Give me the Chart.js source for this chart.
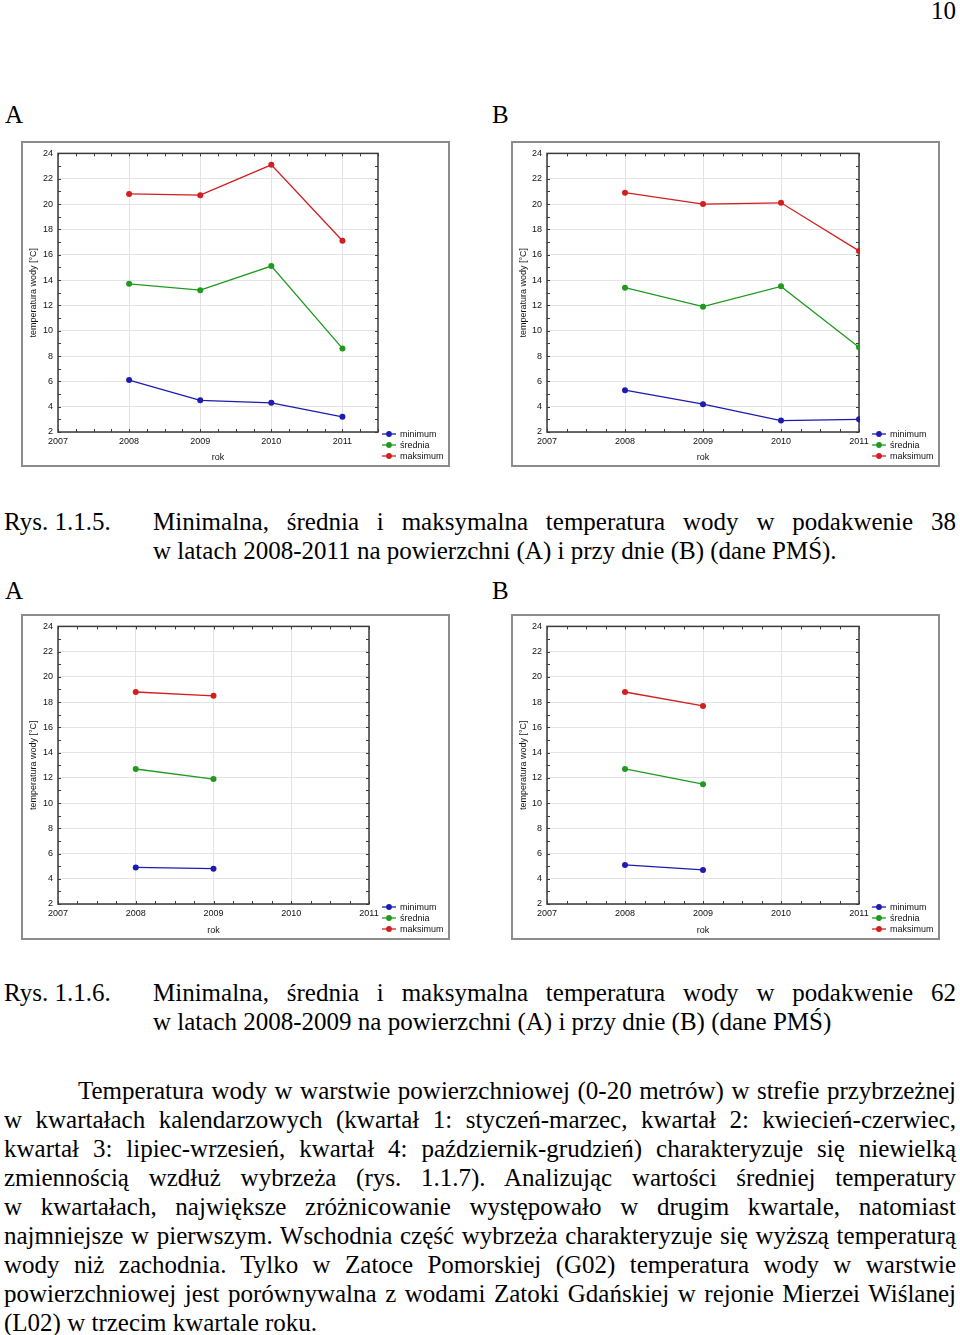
<!DOCTYPE html>
<html lang="pl">
<head>
<meta charset="utf-8">
<script src="https://cdn.jsdelivr.net/npm/chart.js@4.4.1/dist/chart.umd.min.js"></script>
<style>
  body { margin: 0; width: 960px; height: 1335px; position: relative; background: #fff; color: #000;
         font-family: "Liberation Serif", "Times New Roman", serif; overflow: hidden; }
  .t { position: absolute; font-size: 25px; line-height: 29px; white-space: nowrap; }
  .j { text-align: justify; text-align-last: justify; }
  .box { position: absolute; width: 429px; height: 326px; border: 2px solid #8c8c8c; box-sizing: border-box; }
  .box canvas { position: absolute; left: 0; top: 0; }
</style>
</head>
<body>

<div class="t" style="right:4px; top:-4px;">10</div>

<div class="t" style="left:5px; top:100px;">A</div>
<div class="t" style="left:492px; top:100px;">B</div>

<div class="box" style="left:21px; top:141px;"><canvas id="c38A" width="425" height="322"></canvas></div>
<div class="box" style="left:511px; top:141px;"><canvas id="c38B" width="425" height="322"></canvas></div>

<div class="t" style="left:4px; top:507px;">Rys. 1.1.5.</div>
<div class="t j" style="left:153px; top:507px; width:803px;">Minimalna, średnia i maksymalna temperatura wody w podakwenie 38</div>
<div class="t" style="left:153px; top:536px;">w latach 2008-2011 na powierzchni (A) i przy dnie (B) (dane PMŚ).</div>

<div class="t" style="left:5px; top:576px;">A</div>
<div class="t" style="left:492px; top:576px;">B</div>

<div class="box" style="left:21px; top:614px;"><canvas id="c62A" width="425" height="322"></canvas></div>
<div class="box" style="left:511px; top:614px;"><canvas id="c62B" width="425" height="322"></canvas></div>

<div class="t" style="left:4px; top:978px;">Rys. 1.1.6.</div>
<div class="t j" style="left:153px; top:978px; width:803px;">Minimalna, średnia i maksymalna temperatura wody w podakwenie 62</div>
<div class="t" style="left:153px; top:1007px;">w latach 2008-2009 na powierzchni (A) i przy dnie (B) (dane PMŚ)</div>

<div class="t j" style="left:78px; top:1076px; width:878px;">Temperatura wody w warstwie powierzchniowej (0-20 metrów) w strefie przybrzeżnej</div>
<div class="t j" style="left:4px; top:1105px; width:952px;">w kwartałach kalendarzowych (kwartał 1: styczeń-marzec, kwartał 2: kwiecień-czerwiec,</div>
<div class="t j" style="left:4px; top:1134px; width:952px;">kwartał 3: lipiec-wrzesień, kwartał 4: październik-grudzień) charakteryzuje się niewielką</div>
<div class="t j" style="left:4px; top:1163px; width:952px;">zmiennością wzdłuż wybrzeża (rys. 1.1.7). Analizując wartości średniej temperatury</div>
<div class="t j" style="left:4px; top:1192px; width:952px;">w kwartałach, największe zróżnicowanie występowało w drugim kwartale, natomiast</div>
<div class="t j" style="left:4px; top:1221px; width:952px;">najmniejsze w pierwszym. Wschodnia część wybrzeża charakteryzuje się wyższą temperaturą</div>
<div class="t j" style="left:4px; top:1250px; width:952px;">wody niż zachodnia. Tylko w Zatoce Pomorskiej (G02) temperatura wody w warstwie</div>
<div class="t j" style="left:4px; top:1279px; width:952px;">powierzchniowej jest porównywalna z wodami Zatoki Gdańskiej w rejonie Mierzei Wiślanej</div>
<div class="t" style="left:4px; top:1308px;">(L02) w trzecim kwartale roku.</div>

<script>
// lata
const years4 = [2008, 2009, 2010, 2011];
const years2 = [2008, 2009];
const seriesNames = ['minimum', 'średnia', 'maksimum'];
const seriesColors = ['#1c1cb0', '#1f9a1f', '#d21f1f'];

// podakwen 38 - powierzchnia (A)
const min38A = [6.1, 4.5, 4.3, 3.2];
const avg38A = [13.7, 13.2, 15.1, 8.6];
const max38A = [20.8, 20.7, 23.1, 17.1];

// podakwen 38 - przy dnie (B)
const min38B = [5.3, 4.2, 2.9, 3.0];
const avg38B = [13.4, 11.9, 13.5, 8.7];
const max38B = [20.9, 20.0, 20.1, 16.3];

// podakwen 62 - powierzchnia (A)
const min62A = [4.9, 4.8];
const avg62A = [12.7, 11.9];
const max62A = [18.8, 18.5];

// podakwen 62 - przy dnie (B)
const min62B = [5.1, 4.7];
const avg62B = [12.7, 11.5];
const max62B = [18.8, 17.7];

// osie
const yMin = 2, yMax = 24, yStep = 2;
const xMin = 2007;

const sansFont = '"Liberation Sans", Arial, sans-serif';

// ramka wykresu z krotkimi kreskami do srodka
const frameTicks = {
  id: 'frameTicks',
  beforeDatasetsDraw(chart) {
    const { ctx, chartArea: a, scales: { x, y } } = chart;
    ctx.save();
    ctx.strokeStyle = '#3a3a3a';
    ctx.lineWidth = 1;
    ctx.beginPath();
    for (let v = y.min; v <= y.max + 1e-6; v += 1) {
      const py = Math.round(y.getPixelForValue(v)) + 0.5;
      ctx.moveTo(a.left, py); ctx.lineTo(a.left + 3, py);
      ctx.moveTo(a.right, py); ctx.lineTo(a.right - 3, py);
    }
    for (let v = x.min; v <= x.max + 1e-6; v += 0.25) {
      const px = Math.round(x.getPixelForValue(v)) + 0.5;
      ctx.moveTo(px, a.top); ctx.lineTo(px, a.top + 3);
      ctx.moveTo(px, a.bottom); ctx.lineTo(px, a.bottom - 3);
    }
    ctx.stroke();
    ctx.lineWidth = 1.5;
    ctx.strokeRect(a.left, a.top, a.right - a.left, a.bottom - a.top);
    ctx.restore();
  }
};

// legenda w prawym dolnym rogu
const sideLegend = {
  id: 'sideLegend',
  afterDraw(chart) {
    const ctx = chart.ctx;
    ctx.save();
    ctx.font = '9px ' + sansFont;
    ctx.textBaseline = 'middle';
    chart.data.datasets.forEach((ds, i) => {
      const yy = 291 + i * 11;
      ctx.strokeStyle = ds.borderColor;
      ctx.lineWidth = 1.3;
      ctx.beginPath();
      ctx.moveTo(359, yy); ctx.lineTo(373, yy);
      ctx.stroke();
      ctx.fillStyle = ds.pointBackgroundColor;
      ctx.beginPath();
      ctx.arc(366, yy, 2.9, 0, Math.PI * 2);
      ctx.fill();
      ctx.fillStyle = '#111';
      ctx.fillText(ds.label, 377, yy + 0.5);
    });
    ctx.restore();
  }
};

function makeChart(id, xs, series, xMax, plot) {
  const ctx = document.getElementById(id);
  const datasets = series.map((vals, i) => ({
    label: seriesNames[i],
    data: xs.map((x, k) => ({ x: x, y: vals[k] })),
    borderColor: seriesColors[i],
    backgroundColor: seriesColors[i],
    pointBackgroundColor: seriesColors[i],
    pointBorderColor: seriesColors[i],
    pointRadius: 3,
    pointBorderWidth: 0,
    borderWidth: 1.3,
    tension: 0,
    clip: 1
  }));

  new Chart(ctx, {
    type: 'line',
    data: { datasets: datasets },
    options: {
      responsive: false,
      animation: false,
      devicePixelRatio: 1,
      layout: { padding: { left: 0, top: plot.top, right: 425 - plot.right, bottom: 0 } },
      plugins: { legend: { display: false }, tooltip: { enabled: false } },
      scales: {
        x: {
          type: 'linear',
          min: xMin,
          max: xMax,
          afterFit: s => { s.height = 322 - plot.bottom; },
          ticks: {
            stepSize: 1,
            includeBounds: false,
            padding: 4,
            color: '#111',
            font: { family: sansFont, size: 9 },
            maxRotation: 0,
            callback: v => Number.isInteger(v) ? String(v) : ''
          },
          grid: { color: '#e3e3e3', drawTicks: false },
          border: { display: false },
          title: { display: true, text: 'rok', color: '#111', font: { family: sansFont, size: 9 }, padding: { top: 0, bottom: 2 } }
        },
        y: {
          min: yMin,
          max: yMax,
          afterFit: s => { s.width = plot.left; },
          ticks: {
            stepSize: yStep,
            padding: 5,
            color: '#111',
            font: { family: sansFont, size: 9 }
          },
          grid: { color: '#e3e3e3', drawTicks: false },
          border: { display: false },
          title: { display: true, text: 'temperatura wody [°C]', color: '#111', font: { family: sansFont, size: 9 }, padding: { top: 5, bottom: 0 } }
        }
      }
    },
    plugins: [frameTicks, sideLegend]
  });
}

makeChart('c38A', years4, [min38A, avg38A, max38A], 2011.5, { left: 35, right: 355, top: 9, bottom: 289 });
makeChart('c38B', years4, [min38B, avg38B, max38B], 2011, { left: 34, right: 346, top: 9, bottom: 289 });
makeChart('c62A', years2, [min62A, avg62A, max62A], 2011, { left: 35, right: 346, top: 9, bottom: 288 });
makeChart('c62B', years2, [min62B, avg62B, max62B], 2011, { left: 34, right: 346, top: 9, bottom: 288 });
</script>
</body>
</html>
